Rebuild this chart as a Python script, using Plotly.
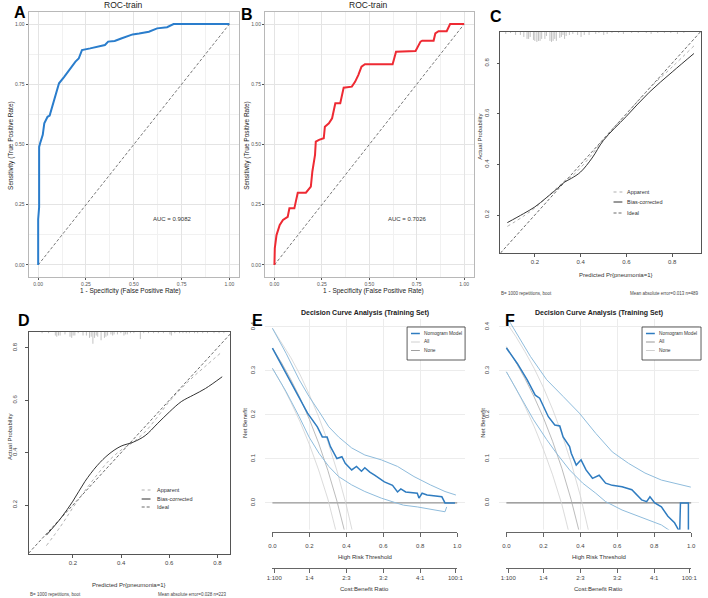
import plotly.graph_objects as go

W, H = 708, 598
def fx(p): return p / W
def fy(p): return 1 - p / H

FONT = "Liberation Sans, Arial, sans-serif"

# ---------------- data ----------------
# Panel A ROC
roc_a_fpr = [0, 0, 0.005, 0.005, 0.012, 0.02, 0.024, 0.032, 0.049, 0.06, 0.075, 0.092, 0.109, 0.135, 0.161,
             0.178, 0.195, 0.212, 0.229, 0.272, 0.306, 0.349, 0.366, 0.40, 0.434, 0.46, 0.494, 0.528, 0.579,
             0.622, 0.674, 0.708, 1.0]
roc_a_tpr = [0, 0.19, 0.24, 0.49, 0.51, 0.53, 0.54, 0.588, 0.615, 0.62, 0.664, 0.705, 0.754, 0.78, 0.809,
             0.823, 0.844, 0.857, 0.892, 0.899, 0.906, 0.913, 0.927, 0.93, 0.94, 0.947, 0.957, 0.961, 0.968,
             0.982, 0.987, 1.0, 1.0]
auc_a = "AUC = 0.9082"
# Panel B ROC
roc_b_fpr = [0, 0.002, 0.011, 0.028, 0.045, 0.07, 0.079, 0.105, 0.123, 0.166, 0.192, 0.20, 0.214, 0.218,
             0.235, 0.26, 0.266, 0.287, 0.304, 0.321, 0.347, 0.365, 0.408, 0.425, 0.442, 0.459, 0.477, 0.623,
             0.641, 0.744, 0.77, 0.779, 0.839, 0.848, 0.865, 0.908, 0.926, 1.0]
roc_b_tpr = [0, 0.07, 0.124, 0.166, 0.187, 0.20, 0.235, 0.235, 0.30, 0.30, 0.325, 0.388, 0.457, 0.512,
             0.519, 0.526, 0.574, 0.588, 0.609, 0.671, 0.671, 0.736, 0.74, 0.76, 0.788, 0.823, 0.833, 0.833,
             0.885, 0.888, 0.927, 0.931, 0.931, 0.961, 0.97, 0.97, 1.0, 1.0]
auc_b = "AUC = 0.7026"
diag = [0, 1]
roc_ticks = [0, 0.25, 0.5, 0.75, 1.0]
roc_ticktext = ["0.00", "0.25", "0.50", "0.75", "1.00"]

# Panel C calibration
cal_c_x = [0.08, 0.15, 0.2, 0.25, 0.3, 0.33, 0.36, 0.4, 0.45, 0.5, 0.6, 0.7, 0.8, 0.895]
cal_c_apparent = [0.155, 0.195, 0.228, 0.268, 0.31, 0.335, 0.352, 0.387, 0.44, 0.50, 0.60, 0.70, 0.785, 0.868]
cal_c_bias = [0.17, 0.205, 0.232, 0.268, 0.306, 0.33, 0.345, 0.37, 0.425, 0.495, 0.59, 0.685, 0.765, 0.838]
ideal_c = [0.05, 0.926]
rug_c_x = [0.073, 0.094, 0.116, 0.137, 0.152, 0.166, 0.173, 0.18, 0.194, 0.2, 0.209, 0.216, 0.223, 0.23,
           0.244, 0.251, 0.266, 0.273, 0.28, 0.287, 0.294, 0.309, 0.316, 0.323, 0.33, 0.337, 0.351, 0.366,
           0.387, 0.402, 0.416, 0.437, 0.466, 0.48, 0.501, 0.516, 0.537, 0.566, 0.587, 0.623, 0.652, 0.687,
           0.708, 0.737, 0.766, 0.794, 0.823, 0.851]
rug_c_n = [2, 1, 3, 3, 5, 7, 7, 5, 8, 9, 10, 9, 9, 7, 7, 4, 9, 10, 9, 7, 9, 6, 5, 3, 7, 4, 3, 2, 3, 5,
           3, 3, 2, 1, 3, 2, 1, 1, 2, 1, 1, 1, 2, 1, 1, 1, 2, 1]
note_c = "Mean absolute error=0.013 n=489"

# Panel D calibration
cal_d_x = [0.09, 0.15, 0.2, 0.25, 0.3, 0.35, 0.4, 0.45, 0.5, 0.55, 0.6, 0.65, 0.7, 0.75, 0.82]
cal_d_apparent = [0.045, 0.12, 0.19, 0.255, 0.315, 0.37, 0.41, 0.44, 0.48, 0.535, 0.595, 0.645, 0.69, 0.73, 0.786]
cal_d_bias = [0.085, 0.15, 0.215, 0.29, 0.35, 0.395, 0.425, 0.44, 0.465, 0.51, 0.555, 0.595, 0.62, 0.645, 0.69]
ideal_d = [0.016, 0.853]
rug_d_x = [0.072, 0.099, 0.127, 0.133, 0.14, 0.147, 0.167, 0.188, 0.195, 0.201, 0.208, 0.222, 0.242, 0.256,
           0.269, 0.276, 0.283, 0.29, 0.297, 0.303, 0.317, 0.331, 0.337, 0.344, 0.358, 0.365, 0.371, 0.385,
           0.399, 0.412, 0.419, 0.426, 0.439, 0.453, 0.48, 0.494, 0.514, 0.535, 0.555, 0.576, 0.603, 0.609,
           0.623, 0.643, 0.657, 0.671, 0.684, 0.705, 0.718, 0.739, 0.759, 0.786, 0.807, 0.827]
rug_d_n = [1, 1, 3, 4, 3, 3, 2, 4, 5, 3, 3, 1, 3, 3, 5, 4, 10, 5, 3, 4, 7, 5, 4, 3, 2, 3, 2, 2, 1, 3,
           2, 2, 1, 1, 6, 1, 1, 1, 1, 1, 2, 3, 1, 1, 1, 1, 1, 1, 1, 1, 1, 1, 1, 1]
note_d = "Mean absolute error=0.028 n=223"
cal_ticks = [0.2, 0.4, 0.6, 0.8]

# Panel E decision curve
dca_e_t = [0, 0.074, 0.137, 0.19, 0.243, 0.27, 0.296, 0.314, 0.349, 0.376, 0.394, 0.429, 0.455, 0.482, 0.50,
           0.527, 0.553, 0.606, 0.65, 0.677, 0.695, 0.721, 0.784, 0.793, 0.81, 0.837, 0.917, 0.934, 0.988]
dca_e_nb = [0.352, 0.295, 0.245, 0.204, 0.173, 0.15, 0.15, 0.128, 0.101, 0.105, 0.090, 0.075, 0.083, 0.072,
            0.08, 0.07, 0.063, 0.048, 0.04, 0.025, 0.032, 0.025, 0.022, 0.011, 0.022, 0.018, 0.014, 0.0, 0.0]
dca_e_hi_t = [0, 0.074, 0.145, 0.198, 0.252, 0.305, 0.358, 0.429, 0.50, 0.589, 0.677, 0.766, 0.855, 0.934, 0.993]
dca_e_hi = [0.397, 0.34, 0.28, 0.242, 0.208, 0.173, 0.15, 0.125, 0.109, 0.098, 0.083, 0.06, 0.041, 0.026, 0.018]
dca_e_lo_t = [0, 0.074, 0.145, 0.198, 0.252, 0.305, 0.358, 0.429, 0.50, 0.589, 0.67, 0.709, 0.784, 0.855,
              0.934, 0.943]
dca_e_lo = [0.306, 0.253, 0.196, 0.15, 0.113, 0.083, 0.06, 0.041, 0.026, 0.011, 0.0, -0.005, -0.009, -0.015,
            -0.02, -0.009]
all_t = [0, 0.05, 0.1, 0.15, 0.2, 0.25, 0.3, 0.35, 0.4, 0.45]
all_e_mid = [0.352, 0.318, 0.280, 0.238, 0.190, 0.136, 0.074, 0.003, -0.080, -0.18]
all_e_lo = [0.306, 0.270, 0.229, 0.184, 0.133, 0.075, 0.009, -0.068, -0.157, -0.26]
all_e_hi = [0.397, 0.365, 0.330, 0.291, 0.246, 0.196, 0.139, 0.072, -0.005, -0.096]

# Panel F decision curve
dca_f_t = [0, 0.059, 0.112, 0.156, 0.18, 0.2, 0.227, 0.262, 0.289, 0.307, 0.342, 0.351, 0.378, 0.404, 0.431,
           0.466, 0.502, 0.537, 0.573, 0.626, 0.679, 0.732, 0.759, 0.777, 0.803, 0.839, 0.874, 0.91, 0.938,
           0.942, 0.985, 0.985]
dca_f_nb = [0.352, 0.317, 0.28, 0.245, 0.238, 0.219, 0.196, 0.177, 0.175, 0.15, 0.128, 0.113, 0.086, 0.098,
            0.075, 0.056, 0.063, 0.045, 0.040, 0.037, 0.030, 0.007, 0.003, 0.014, 0.0, -0.009, -0.03, -0.045,
            -0.066, 0.0, 0.0, -0.1]
dca_f_hi_t = [0, 0.023, 0.13, 0.218, 0.307, 0.395, 0.484, 0.573, 0.661, 0.75, 0.839, 0.945, 0.998]
dca_f_hi = [0.425, 0.408, 0.333, 0.28, 0.242, 0.204, 0.158, 0.116, 0.09, 0.068, 0.052, 0.041, 0.036]
dca_f_lo_t = [0, 0.076, 0.147, 0.218, 0.271, 0.342, 0.413, 0.484, 0.537, 0.626, 0.697, 0.768, 0.839, 0.892]
dca_f_lo = [0.298, 0.242, 0.189, 0.144, 0.113, 0.075, 0.045, 0.022, 0.003, -0.016, -0.027, -0.039, -0.05, -0.065]
all_f_mid = [0.355, 0.321, 0.283, 0.241, 0.194, 0.14, 0.079, 0.008, -0.075, -0.17]
all_f_lo = [0.298, 0.261, 0.22, 0.174, 0.122, 0.064, -0.003, -0.08, -0.17, -0.27]
all_f_hi = [0.41, 0.379, 0.344, 0.306, 0.2625, 0.213, 0.157, 0.092, 0.017, -0.073]
none_t = [0, 1]
none_nb = [0, 0]

thr_ticks = [0, 0.2, 0.4, 0.6, 0.8, 1.0]
thr_text = ["0.0", "0.2", "0.4", "0.6", "0.8", "1.0"]
cb_ticks = [0.0099, 0.2, 0.4, 0.6, 0.8, 0.99]
cb_text = ["1:100", "1:4", "2:3", "3:2", "4:1", "100:1"]
nb_ticks = [0, 0.1, 0.2, 0.3, 0.4]
nb_text = ["0.0", "0.1", "0.2", "0.3", "0.4"]

# ---------------- figure ----------------
fig = go.Figure()

def add(x, y, xa, ya, color, width, dash="solid", shape="linear"):
    fig.add_trace(go.Scatter(x=x, y=y, xaxis=xa, yaxis=ya, mode="lines",
                             line=dict(color=color, width=width, dash=dash, shape=shape),
                             showlegend=False, hoverinfo="skip"))

def rug(xs, ns, top, unit, xa, ya):
    rx, ry = [], []
    for x, n in zip(xs, ns):
        rx += [x, x, None]
        ry += [top, top - n * unit, None]
    add(rx, ry, xa, ya, "#a8a8a8", 0.7)

# A
add(diag, diag, "x", "y", "#555555", 0.8, dash="3px,2px")
add(roc_a_fpr, roc_a_tpr, "x", "y", "#2a7dcc", 2)
# B
add(diag, diag, "x2", "y2", "#555555", 0.8, dash="3px,2px")
add(roc_b_fpr, roc_b_tpr, "x2", "y2", "#ee2a33", 2)
# C
C_TOP = 0.923
add(ideal_c, ideal_c, "x3", "y3", "#444444", 0.8, dash="3px,2px")
add(cal_c_x, cal_c_apparent, "x3", "y3", "#9a9a9a", 0.8, dash="dot", shape="spline")
add(cal_c_x, cal_c_bias, "x3", "y3", "#333333", 1, shape="spline")
rug(rug_c_x, rug_c_n, C_TOP, 0.0039, "x3", "y3")
# D
D_TOP = 0.861
add(ideal_d, ideal_d, "x4", "y4", "#444444", 0.8, dash="3px,2px")
add(cal_d_x, cal_d_apparent, "x4", "y4", "#9a9a9a", 0.8, dash="dot", shape="spline")
add(cal_d_x, cal_d_bias, "x4", "y4", "#333333", 1, shape="spline")
rug(rug_d_x, rug_d_n, D_TOP, 0.0045, "x4", "y4")
# E
add(none_t, none_nb, "x5", "y5", "#999999", 1.3)
add(all_t, all_e_lo, "x5", "y5", "#d2d2d2", 0.8)
add(all_t, all_e_hi, "x5", "y5", "#d2d2d2", 0.8)
add(all_t, all_e_mid, "x5", "y5", "#ababab", 0.8)
add(dca_e_lo_t, dca_e_lo, "x5", "y5", "#8fbcdc", 1)
add(dca_e_hi_t, dca_e_hi, "x5", "y5", "#8fbcdc", 1)
add(dca_e_t, dca_e_nb, "x5", "y5", "#2f7cc0", 1.5)
# F
add(none_t, none_nb, "x8", "y8", "#888888", 1.3)
add(all_t, all_f_lo, "x8", "y8", "#d2d2d2", 0.8)
add(all_t, all_f_hi, "x8", "y8", "#d2d2d2", 0.8)
add(all_t, all_f_mid, "x8", "y8", "#ababab", 0.8)
add(dca_f_lo_t, dca_f_lo, "x8", "y8", "#8fbcdc", 1)
add(dca_f_hi_t, dca_f_hi, "x8", "y8", "#8fbcdc", 1)
add(dca_f_t, dca_f_nb, "x8", "y8", "#2f7cc0", 1.5)
# empty traces to create the stand-alone threshold / cost-benefit axes
for xa, ya in [("x6", "y6"), ("x7", "y7"), ("x9", "y9"), ("x10", "y10")]:
    fig.add_trace(go.Scatter(x=[None], y=[None], xaxis=xa, yaxis=ya, mode="lines",
                             showlegend=False, hoverinfo="skip"))

# ---------------- axes ----------------
def roc_axis(domain, anchor):
    return dict(domain=domain, anchor=anchor, range=[-0.05, 1.05], tickvals=roc_ticks, ticktext=roc_ticktext,
                showgrid=True, gridcolor="#e4e4e4", gridwidth=0.9,
                minor=dict(tickvals=[0.125, 0.375, 0.625, 0.875], showgrid=True, gridcolor="#f1f1f1",
                           gridwidth=0.6, ticks=""),
                showline=True, mirror=True, linecolor="#b8b8b8", linewidth=1,
                ticks="outside", ticklen=2, tickcolor="#555", tickwidth=0.8,
                tickfont=dict(size=5, color="#555", family=FONT), zeroline=False)

def cal_axis(domain, anchor, rng, yaxis=False):
    d = dict(domain=domain, anchor=anchor, range=rng, tickvals=cal_ticks,
             ticktext=["0.2", "0.4", "0.6", "0.8"], showgrid=False, zeroline=False,
             showline=True, mirror=True, linecolor="#555", linewidth=0.8,
             ticks="outside", ticklen=3, tickcolor="#555", tickwidth=0.7,
             tickfont=dict(size=6, color="#444", family=FONT))
    if yaxis:
        d["tickangle"] = -90
        d["ticklabelstandoff"] = 5
    return d

def dca_main_x(domain, anchor):
    return dict(domain=domain, anchor=anchor, range=[-0.04, 1.04], tickvals=[0.2, 0.4, 0.6, 0.8],
                showticklabels=False, ticks="", showgrid=True, gridcolor="#ececec", gridwidth=0.8,
                showline=False, zeroline=False)

def dca_main_y(domain, anchor):
    return dict(domain=domain, anchor=anchor, range=[-0.066, 0.418], tickvals=nb_ticks, ticktext=nb_text,
                tickangle=-90, showgrid=True, gridcolor="#ececec", gridwidth=0.8, showline=False,
                zeroline=False, ticks="", ticklabelstandoff=8,
                tickfont=dict(size=6, color="#444", family=FONT))

def free_x(domain, anchor, vals, text, standoff=0):
    return dict(domain=domain, anchor=anchor, range=[0, 1], tickvals=vals, ticktext=text,
                showline=True, linecolor="#666", linewidth=0.9, ticks="outside", ticklen=4,
                tickcolor="#666", tickwidth=0.8, showgrid=False, zeroline=False,
                ticklabelstandoff=standoff, tickfont=dict(size=6, color="#444", family=FONT))

def free_y(py_bottom, anchor):
    return dict(domain=[fy(py_bottom), fy(py_bottom) + 0.004], anchor=anchor, range=[0, 1], visible=False,
                showgrid=False, zeroline=False)

roc_y_dom = [fy(277), fy(12)]
layout = dict(
    xaxis=roc_axis([fx(23), fx(237)], "y"),
    yaxis=roc_axis(roc_y_dom, "x"),
    xaxis2=roc_axis([fx(263.4), fx(475.7)], "y2"),
    yaxis2=roc_axis(roc_y_dom, "x2"),
    xaxis3=cal_axis([fx(503), fx(707)], "y3", [0.05, 0.926]),
    yaxis3=cal_axis([fy(253), fy(32)], "x3", [0.05, C_TOP], yaxis=True),
    xaxis4=cal_axis([fx(23), fx(228)], "y4", [0.016, 0.853]),
    yaxis4=cal_axis([fy(554), fy(332)], "x4", [0.013, D_TOP], yaxis=True),
    xaxis5=dca_main_x([fx(263.5), fx(466.5)], "y5"),
    yaxis5=dca_main_y([fy(532), fy(319)], "x5"),
    xaxis6=free_x([fx(271), fx(459)], "y6", thr_ticks, thr_text, standoff=4),
    yaxis6=free_y(532, "x6"),
    xaxis7=free_x([fx(271), fx(459)], "y7", cb_ticks, cb_text),
    yaxis7=free_y(568, "x7"),
    xaxis8=dca_main_x([fx(501.5), fx(704.5)], "y8"),
    yaxis8=dca_main_y([fy(532), fy(319)], "x8"),
    xaxis9=free_x([fx(509), fx(697)], "y9", thr_ticks, thr_text, standoff=4),
    yaxis9=free_y(532, "x9"),
    xaxis10=free_x([fx(509), fx(697)], "y10", cb_ticks, cb_text),
    yaxis10=free_y(568, "x10"),
)

# ---------------- annotations ----------------
ann = []
def text(x, y, s, size=6, color="#333", angle=0, xanchor="center", bold=False, xref="paper", yref="paper"):
    ann.append(dict(x=x, y=y, xref=xref, yref=yref, text=("<b>%s</b>" % s) if bold else s, showarrow=False,
                    textangle=angle, xanchor=xanchor, yanchor="middle",
                    font=dict(size=size, color=color, family=FONT)))

# panel letters
for s, x, y in [("A", 14, 13), ("B", 245, 15), ("C", 498, 17), ("D", 18, 320), ("E", 256, 320), ("F", 513, 320)]:
    text(fx(x), fy(y), s, size=16, color="#000", bold=True)

# ROC texts
text(fx(120), fy(5), "ROC-train", size=8.5, color="#222")
text(fx(369), fy(5), "ROC-train", size=8.5, color="#222")
text(fx(127), fy(291), "1 - Specificity (False Positive Rate)", size=6.5, color="#222")
text(fx(374), fy(291), "1 - Specificity (False Positive Rate)", size=6.5, color="#222")
text(fx(5), fy(145), "Sensitivity (True Positive Rate)", size=6.5, color="#222", angle=-90)
text(fx(245), fy(145), "Sensitivity (True Positive Rate)", size=6.5, color="#222", angle=-90)
text(0.70, 0.19, auc_a, size=6, color="#333", xref="x", yref="y")
text(0.70, 0.19, auc_b, size=6, color="#333", xref="x2", yref="y2")

# calibration texts
text(fx(621), fy(275), "Predicted Pr{pneumonia=1}", size=6, color="#333")
text(fx(482), fy(137), "Actual Probability", size=6, color="#333", angle=-90)
text(fx(502), fy(293), "B= 1000 repetitions, boot", size=4.5, color="#444", xanchor="left")
text(fx(707), fy(293), note_c, size=4.5, color="#444", xanchor="right")
text(fx(125), fy(585), "Predicted Pr{pneumonia=1}", size=6, color="#333")
text(fx(4), fy(437), "Actual Probability", size=6, color="#333", angle=-90)
text(fx(22), fy(594), "B= 1000 repetitions, boot", size=4.5, color="#444", xanchor="left")
text(fx(227), fy(594), note_d, size=4.5, color="#444", xanchor="right")

# DCA texts
for cx, yl in [(365, 243), (603, 485)]:
    text(fx(cx), fy(313), "Decision Curve Analysis (Training Set)", size=7, color="#222", bold=True)
    text(fx(yl), fy(423), "Net Benefit", size=6, color="#333", angle=-90)
    text(fx(cx), fy(557), "High Risk Threshold", size=6, color="#333")
    text(fx(cx), fy(589), "Cost:Benefit Ratio", size=6, color="#333")

# legends (keys drawn as shapes)
shapes = []
def key(x0, x1, y, color, width, dash="solid"):
    shapes.append(dict(type="line", xref="paper", yref="paper", x0=fx(x0), x1=fx(x1), y0=fy(y), y1=fy(y),
                       line=dict(color=color, width=width, dash=dash)))

cal_leg = [("Apparent", "#9a9a9a", 0.8, "dot"), ("Bias-corrected", "#333333", 1, "solid"),
           ("Ideal", "#444444", 0.8, "3px,2px")]
for (lab, col, w, d), yy in zip(cal_leg, [192, 202, 213]):
    key(618, 627, yy, col, w, d)
    text(fx(630), fy(yy), lab, size=5.5, color="#333", xanchor="left")
for (lab, col, w, d), yy in zip(cal_leg, [490, 499, 507]):
    key(138, 147, yy, col, w, d)
    text(fx(152), fy(yy), lab, size=5.5, color="#333", xanchor="left")

for bx0, bx1, legs in [(408, 467, [("Nomogram Model", "#2f7cc0", 1.5), ("All", "#d0d0d0", 1), ("None", "#a0a0a0", 1)]),
                       (647, 707, [("Nomogram Model", "#2f7cc0", 1.5), ("All", "#999999", 1), ("None", "#cfcfcf", 1)])]:
    shapes.append(dict(type="rect", xref="paper", yref="paper", x0=fx(bx0), x1=fx(bx1), y0=fy(360), y1=fy(327),
                       line=dict(color="#333", width=0.8), fillcolor="white", layer="above"))
    for (lab, col, w), yy in zip(legs, [333.5, 342, 350.5]):
        key(bx0 + 4, bx0 + 13, yy, col, w)
        text(fx(bx0 + 15.5), fy(yy), lab, size=4.8, color="#333", xanchor="left")

fig.update_layout(**layout)
fig.update_layout(width=W, height=H, margin=dict(l=0, r=0, t=0, b=0), paper_bgcolor="white",
                  plot_bgcolor="white", showlegend=False, annotations=ann, shapes=shapes,
                  font=dict(family=FONT))
fig.write_html("out.html")
